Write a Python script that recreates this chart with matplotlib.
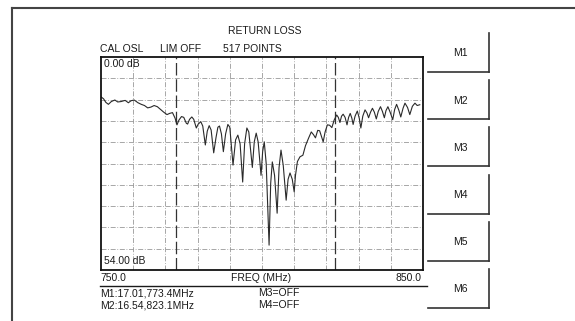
import numpy as np
import matplotlib
matplotlib.use("Agg")
import matplotlib.pyplot as plt

# return loss trace (MHz, dB)
freq_mhz = [750.0, 750.8, 751.5, 752.3, 753.2, 754.3, 755.2, 756.2, 757.5, 758.5,
            759.3, 760.3, 761.5, 762.5, 763.5, 764.5, 765.5, 766.5, 767.5, 768.5,
            769.5, 770.5, 771.3, 772.2, 773.0, 773.6, 774.2, 775.0, 775.7, 776.5,
            776.9, 777.5, 778.2, 778.8, 779.6, 780.2, 781.0, 781.6, 782.4, 783.0,
            783.6, 784.2, 785.0, 785.7, 786.3, 786.8, 787.4, 788.0, 788.7, 789.4,
            790.0, 791.0, 791.8, 792.5, 793.2, 794.0, 794.6, 795.3, 795.9, 797.0,
            797.6, 798.2, 798.8, 799.7, 800.2, 800.7, 801.3, 802.2, 802.7, 803.2,
            803.9, 804.7, 805.3, 805.9, 806.6, 807.5, 808.1, 808.7, 809.4, 810.0,
            810.4, 811.0, 811.8, 812.7, 813.5, 814.5, 815.3, 816.0, 816.6, 817.3,
            817.9, 818.5, 819.0, 819.6, 820.3, 821.0, 821.7, 822.4, 823.2, 823.7,
            824.2, 824.7, 825.2, 825.8, 826.4, 826.9, 827.4, 827.9, 828.3, 828.9,
            829.6, 830.2, 830.7, 831.3, 832.0, 832.6, 833.1, 833.7, 834.3, 834.9,
            835.5, 836.1, 836.8, 837.4, 838.0, 838.5, 839.1, 839.8, 840.6, 841.2,
            841.8, 842.5, 843.1, 843.8, 844.4, 845.2, 845.9, 846.7, 847.5, 848.2,
            849.0]
return_loss_db = [10.1, 10.6, 11.5, 12.0, 11.3, 10.9, 11.4, 11.3, 11.0, 11.6,
                  11.1, 10.9, 11.6, 12.0, 12.3, 12.9, 12.7, 12.3, 12.6, 13.3,
                  14.0, 14.6, 14.3, 14.1, 15.5, 17.2, 16.0, 15.1, 15.3, 16.8,
                  17.0, 15.8, 15.2, 15.8, 18.0, 17.0, 16.4, 17.5, 22.3, 18.8,
                  17.4, 18.5, 24.3, 20.5, 17.8, 17.5, 19.5, 24.0, 19.5, 17.1,
                  17.8, 27.4, 21.0, 19.8, 22.0, 31.7, 22.0, 18.0, 19.0, 28.0,
                  21.5, 19.3, 21.5, 30.0, 24.0, 21.5, 27.0, 47.7, 32.0, 26.6,
                  30.0, 39.6, 28.0, 23.6, 27.5, 36.3, 31.0, 29.4, 31.0, 34.2,
                  30.0, 26.5, 25.3, 24.9, 22.5, 20.5, 19.0, 19.7, 20.5, 18.6,
                  18.7, 20.2, 21.5, 19.0, 17.2, 17.3, 17.9, 16.0, 14.7, 15.3,
                  16.6, 15.0, 14.5, 15.3, 17.2, 15.3, 14.3, 15.5, 17.1, 15.0,
                  13.7, 15.5, 18.0, 15.0, 13.4, 14.2, 15.4, 14.0, 13.0, 14.0,
                  15.7, 13.8, 12.6, 13.8, 15.4, 13.6, 12.6, 14.0, 15.9, 13.3,
                  12.0, 13.5, 15.2, 13.0, 11.7, 12.8, 14.6, 12.5, 11.7, 12.3,
                  12.1]

marker_freqs = [773.4, 822.6]
header_labels = ["CAL OSL", "LIM OFF", "517 POINTS"]
marker_readouts = ["M1:17.01,773.4MHz", "M2:16.54,823.1MHz"]
marker_states = ["M3=OFF", "M4=OFF"]
button_labels = ["M1", "M2", "M3", "M4", "M5", "M6"]

W, H = 575, 321
plt.rcParams['font.family'] = ['Liberation Sans', 'DejaVu Sans']
fig = plt.figure(figsize=(W / 100, H / 100), dpi=100)
fig.patch.set_facecolor('white')

# full-figure overlay in pixel coordinates for the instrument chrome
bg = fig.add_axes([0, 0, 1, 1])
bg.set_xlim(0, W)
bg.set_ylim(H, 0)
bg.axis('off')

ink = '#1a1a1a'
fs = 7.5

# outer frame (top and left edges)
bg.plot([12, W], [8, 8], color='#444444', lw=1.5)
bg.plot([12, 12], [8, H], color='#444444', lw=1.5)

bg.text(265, 31, "RETURN LOSS", ha='center', va='center', fontsize=fs, color=ink)
for x, s in zip([100, 160, 223], header_labels):
    bg.text(x, 49, s, ha='left', va='center', fontsize=fs, color=ink)

bg.text(100, 278, "750.0", ha='left', va='center', fontsize=fs, color=ink)
bg.text(261, 278, "FREQ (MHz)", ha='center', va='center', fontsize=fs, color=ink)
bg.text(421, 278, "850.0", ha='right', va='center', fontsize=fs, color=ink)
bg.plot([100, 427], [286, 286], color=ink, lw=1.0)

for y, s in zip([293, 305], marker_readouts):
    bg.text(100, y, s, ha='left', va='center', fontsize=fs, color=ink)
for y, s in zip([293, 305], marker_states):
    bg.text(258, y, s, ha='left', va='center', fontsize=fs, color=ink)

# softkey buttons on the right
for i, lab in enumerate(button_labels):
    top = 33 + i * 47.2
    bot = top + 39
    bg.plot([489, 489], [top, bot], color='#333333', lw=1.2)
    bg.plot([428, 489], [bot, bot], color='#333333', lw=1.2)
    bg.text(460, (top + bot) / 2 + 1, lab, ha='center', va='center', fontsize=fs, color=ink)

# measurement graticule
x0, x1, y0, y1 = 101, 423, 57, 270
ax = fig.add_axes([x0 / W, 1 - y1 / H, (x1 - x0) / W, (y1 - y0) / H])
ax.set_xlim(750, 850)
ax.set_ylim(54, 0)
ax.set_xticks([])
ax.set_yticks([])
for sp in ax.spines.values():
    sp.set_linewidth(1.3)
    sp.set_color('#111111')

grid_style = dict(color='#999999', lw=0.6, ls=(0, (6, 2, 1, 2)))
for f in np.arange(760, 850, 10):
    ax.axvline(f, **grid_style)
for d in np.arange(5.4, 54, 5.4):
    ax.axhline(d, **grid_style)

for f in marker_freqs:
    ax.axvline(f, color='#333333', lw=0.9, ls=(0, (10, 3)))

ax.plot(freq_mhz, return_loss_db, color='#2a2a2a', lw=0.8)

ax.text(0.01, 0.965, "0.00 dB", transform=ax.transAxes, ha='left', va='center',
        fontsize=fs, color=ink)
ax.text(0.01, 0.04, "54.00 dB", transform=ax.transAxes, ha='left', va='center',
        fontsize=fs, color=ink)

fig.savefig("out.png", dpi=100, facecolor='white')
